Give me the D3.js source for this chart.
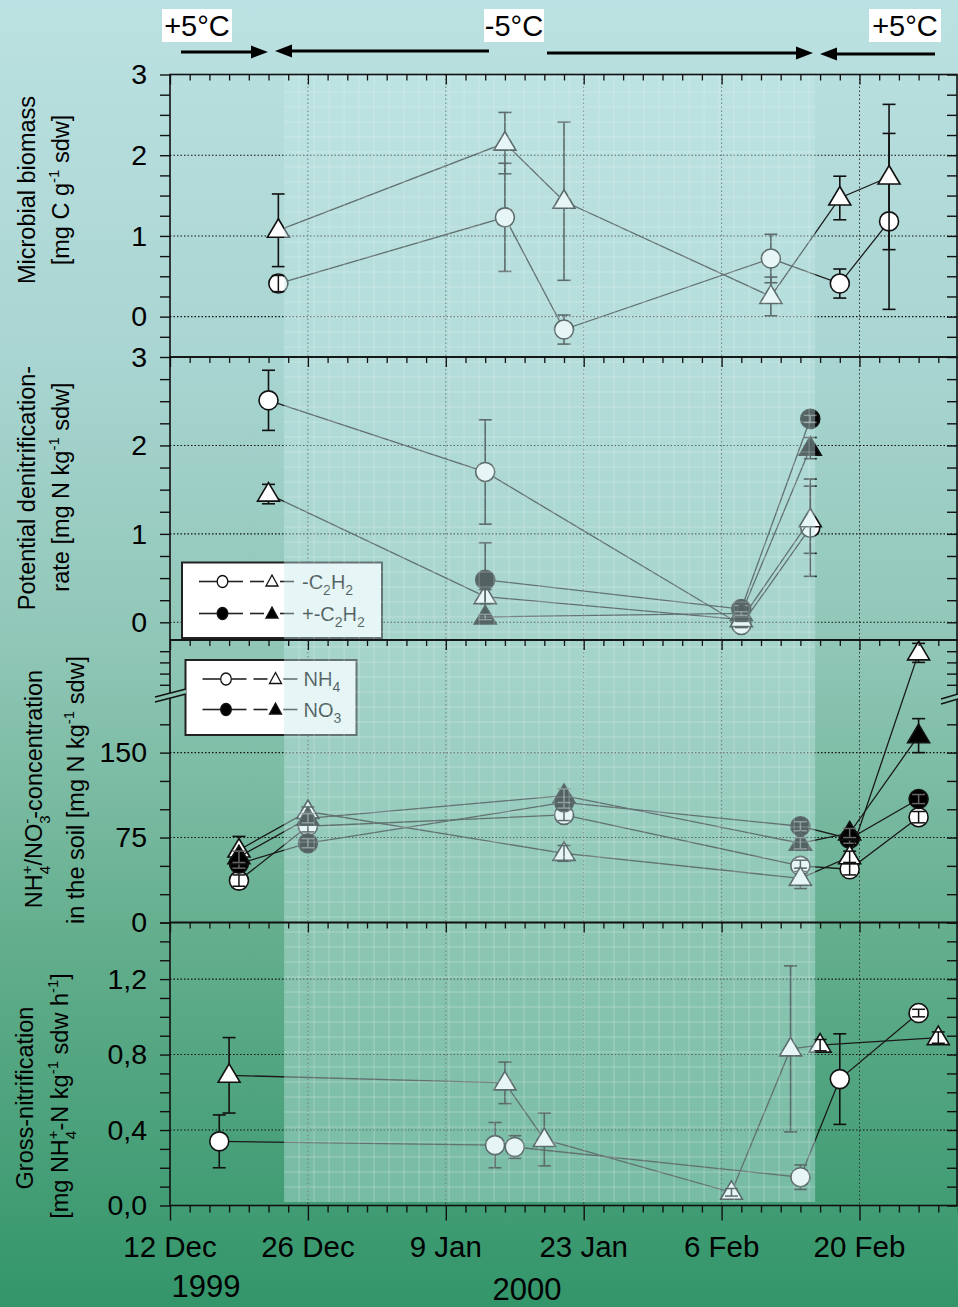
<!DOCTYPE html>
<html>
<head>
<meta charset="utf-8">
<script src="https://cdn.jsdelivr.net/npm/d3@7"></script>
<style>
  body { margin: 0; }
  svg { display: block; }
  text { font-family: "Liberation Sans", Arial, Helvetica, sans-serif; fill: #000; }
</style>
</head>
<body>
<script>
// ---- time axis ----
const dateDomain = ["1999-12-12", "2000-03-01"];
const majorTickDates = ["1999-12-12", "1999-12-26", "2000-01-09", "2000-01-23", "2000-02-06", "2000-02-20"];
const majorTickLabels = ["12 Dec", "26 Dec", "9 Jan", "23 Jan", "6 Feb", "20 Feb"];
const yearLabels = ["1999", "2000"];
const freezePeriod = ["1999-12-23T14:00:00Z", "2000-02-15T12:00:00Z"];
const temperatureLabels = ["+5°C", "-5°C", "+5°C"];

// ---- microbial biomass [mg C g-1 sdw] ----
const bioDates = ["1999-12-23", "2000-01-15", "2000-01-21", "2000-02-11", "2000-02-18", "2000-02-23"];
const bioCircle = [0.41, 1.23, -0.16, 0.72, 0.41, 1.18];
const bioCircleErr = [0.10, 0.67, 0.18, 0.30, 0.18, 1.09];
const bioTriangle = [1.07, 2.15, 1.43, 0.25, 1.47, 1.73];
const bioTriangleErr = [0.45, 0.38, 0.98, 0.24, 0.27, 0.90];

// ---- potential denitrification rate [mg N kg-1 sdw] ----
const denDates = ["1999-12-22", "2000-01-13", "2000-02-08", "2000-02-15"];
const denCircleOpen = [2.51, 1.70, -0.03, 1.07];
const denCircleOpenErr = [0.34, 0.59, 0.03, 0.55];
const denTriangleOpen = [1.45, 0.29, 0.03, 1.16];
const denTriangleOpenErr = [0.11, 0.08, 0.02, 0.38];
const denDatesC2H2 = ["2000-01-13", "2000-02-08", "2000-02-15"];
const denCircleFilled = [0.48, 0.15, 2.30];
const denCircleFilledErr = [0.42, 0.04, 0.04];
const denTriangleFilled = [0.06, 0.10, 1.97];
const denTriangleFilledErr = [0.03, 0.02, 0.12];

// ---- NH4+/NO3- in the soil [mg N kg-1 sdw] ----
const soilDates = ["1999-12-19", "1999-12-26", "2000-01-21", "2000-02-14", "2000-02-19", "2000-02-26"];
const nh4Circle = [37, 85, 95, 50, 47, 93];
const nh4CircleErr = [5, 5, 5, 5, 5, 5];
const nh4Triangle = [64, 98, 61, 39, 58, 585];
const nh4TriangleErr = [12, 4, 7, 9, 5, 85];
const no3Circle = [52, 70, 106, 85, 74, 109];
const no3CircleErr = [4, 4, 5, 4, 4, 4];
const no3Triangle = [58, 92, 112, 70, 79, 165];
const no3TriangleErr = [5, 4, 6, 5, 4, 15];

// ---- gross nitrification [mg NH4+-N kg-1 sdw h-1] ----
const nitCircleDates = ["1999-12-17", "2000-01-14", "2000-01-16", "2000-02-14", "2000-02-18", "2000-02-26"];
const nitCircle = [0.34, 0.32, 0.31, 0.15, 0.67, 1.02];
const nitCircleErr = [0.14, 0.12, 0.06, 0.065, 0.24, 0.02];
const nitTriangleDates = ["1999-12-18", "2000-01-15", "2000-01-19", "2000-02-07", "2000-02-13", "2000-02-16", "2000-02-28"];
const nitTriangle = [0.69, 0.65, 0.35, 0.07, 0.83, 0.85, 0.89];
const nitTriangleErr = [0.20, 0.11, 0.14, 0.02, 0.44, 0.03, 0.03];

// ---- y tick labels ----
const bioTicks = [0, 1, 2, 3];
const denTicks = [0, 1, 2, 3];
const soilTicks = [0, 75, 150];
const nitTicks = [0, 0.4, 0.8, 1.2];

// ================= drawing =================
const W = 958, H = 1307;
const L = 170, R = 958;
const iso = d3.isoParse;
const pd = s => iso(s.length === 10 ? s + "T00:00:00Z" : s);

const x = d3.scaleUtc().domain(dateDomain.map(pd)).range([L, R]);
const minorDates = d3.utcDay.range(pd(dateDomain[0]), d3.utcDay.offset(pd(dateDomain[1]), 1), 2);

const svg = d3.select("body").append("svg").attr("width", W).attr("height", H);
const defs = svg.append("defs");
const grad = defs.append("linearGradient").attr("id", "bg")
  .attr("gradientUnits", "userSpaceOnUse").attr("x1", 0).attr("y1", 0).attr("x2", 0).attr("y2", H);
[[0, "#bce1e2"], [0.27, "#a9d5d2"], [0.5, "#8fc6b6"], [0.72, "#63ae8d"], [1, "#33956a"]]
  .forEach(([o, c]) => grad.append("stop").attr("offset", o).attr("stop-color", c));
svg.append("rect").attr("width", W).attr("height", H).attr("fill", "url(#bg)");

const commaFmt = d => d3.format(".1f")(d).replace(".", ",");

const panels = [
  { top: 74.5, bottom: 357, y: d3.scaleLinear().domain([-0.5, 3]).range([357, 74.5]),
    ticks: d3.range(-0.25, 3.001, 0.25), labels: bioTicks, grid: [0, 1, 2], fmt: d3.format("d") },
  { top: 357, bottom: 640, y: d3.scaleLinear().domain([-0.2, 3]).range([640, 357]),
    ticks: d3.range(0, 3.001, 0.25), labels: denTicks, grid: [0, 1, 2], fmt: d3.format("d") },
  { top: 640, bottom: 922.5, y: d3.scaleLinear().domain([0, 200, 700]).range([922.5, 696, 640]),
    ticks: [0, 25, 50, 75, 100, 125, 150, 175, 300, 400, 500, 600], labels: soilTicks, grid: [75, 150], fmt: d3.format("d") },
  { top: 922.5, bottom: 1205.5, y: d3.scaleLinear().domain([0, 1.5]).range([1205.5, 922.5]),
    ticks: d3.range(0, 16).map(i => i / 10), labels: nitTicks, grid: [0.4, 0.8, 1.2], fmt: commaFmt }
];

// dotted grid lines
panels.forEach(p => {
  const g = svg.append("g");
  g.selectAll(".hg").data(p.grid).join("line")
    .attr("x1", L).attr("x2", R).attr("y1", d => p.y(d)).attr("y2", d => p.y(d))
    .attr("stroke", "#111").attr("stroke-width", 1.1).attr("stroke-dasharray", "1.5,2");
  g.selectAll(".vg").data(majorTickDates.slice(1)).join("line")
    .attr("x1", d => x(pd(d))).attr("x2", d => x(pd(d))).attr("y1", p.top).attr("y2", p.bottom)
    .attr("stroke", "#333").attr("stroke-width", 1).attr("stroke-dasharray", "1.5,2.5");
});

// marker shapes
const CIRC_RX = 9.5, CIRC_RY = 9.5;
const triPath = "M0,-11.5L11,7L-11,7Z";

function series(p, dates, vals, errs, shape, filled) {
  const y = p.y;
  const pts = dates.map((d, i) => ({ x: x(pd(d)), y: y(vals[i]), v: vals[i], e: errs[i] }));
  const g = svg.append("g");
  g.append("path").datum(pts)
    .attr("d", d3.line().x(d => d.x).y(d => d.y))
    .attr("fill", "none").attr("stroke", "#1a1a1a").attr("stroke-width", 1.3);
  const half = shape === "circle" ? CIRC_RY : 9;
  const bar = (sel) => {
    sel.append("line").attr("x1", d => d.x).attr("x2", d => d.x)
      .attr("y1", d => y(d.v + d.e)).attr("y2", d => y(d.v - d.e));
    sel.append("line").attr("x1", d => d.x - 6.5).attr("x2", d => d.x + 6.5)
      .attr("y1", d => y(d.v + d.e)).attr("y2", d => y(d.v + d.e));
    sel.append("line").attr("x1", d => d.x - 6.5).attr("x2", d => d.x + 6.5)
      .attr("y1", d => y(d.v - d.e)).attr("y2", d => y(d.v - d.e));
  };
  // error bars behind the marker
  g.selectAll(".eb").data(pts.filter(d => Math.abs(y(d.v + d.e) - y(d.v)) >= half)).join("g")
    .attr("stroke", "#111").attr("stroke-width", 1.6).call(bar);
  const fill = filled ? "#000" : "#fff";
  if (shape === "circle") {
    g.selectAll(".m").data(pts).join("ellipse")
      .attr("cx", d => d.x).attr("cy", d => d.y).attr("rx", CIRC_RX).attr("ry", CIRC_RY)
      .attr("fill", fill).attr("stroke", "#111").attr("stroke-width", 1.6);
  } else {
    g.selectAll(".m").data(pts).join("path")
      .attr("d", triPath).attr("transform", d => `translate(${d.x},${d.y})`)
      .attr("fill", fill).attr("stroke", "#111").attr("stroke-width", 1.6).attr("stroke-linejoin", "miter");
  }
  // short error bars show through the marker
  g.selectAll(".es").data(pts.filter(d => Math.abs(y(d.v + d.e) - y(d.v)) < half)).join("g")
    .attr("stroke", filled ? "#666" : "#111").attr("stroke-width", 1.5).call(bar);
}

const [P1, P2, P3, P4] = panels;
series(P1, bioDates, bioCircle, bioCircleErr, "circle", false);
series(P1, bioDates, bioTriangle, bioTriangleErr, "triangle", false);

series(P2, denDates, denCircleOpen, denCircleOpenErr, "circle", false);
series(P2, denDates, denTriangleOpen, denTriangleOpenErr, "triangle", false);
series(P2, denDatesC2H2, denCircleFilled, denCircleFilledErr, "circle", true);
series(P2, denDatesC2H2, denTriangleFilled, denTriangleFilledErr, "triangle", true);

series(P3, soilDates, nh4Circle, nh4CircleErr, "circle", false);
series(P3, soilDates, no3Circle, no3CircleErr, "circle", true);
series(P3, soilDates, nh4Triangle, nh4TriangleErr, "triangle", false);
series(P3, soilDates, no3Triangle, no3TriangleErr, "triangle", true);

series(P4, nitCircleDates, nitCircle, nitCircleErr, "circle", false);
series(P4, nitTriangleDates, nitTriangle, nitTriangleErr, "triangle", false);

// legends
function legend(bx, by, bw, bh, rows) {
  const g = svg.append("g");
  g.append("rect").attr("x", bx).attr("y", by).attr("width", bw).attr("height", bh)
    .attr("fill", "#fff").attr("stroke", "#222").attr("stroke-width", 2);
  rows.forEach(r => {
    const cy = r.y;
    [[bx + 17, bx + 35], [bx + 46, bx + 61], [bx + 68, bx + 82], [bx + 98, bx + 112]].forEach(([a, b]) =>
      g.append("line").attr("x1", a).attr("x2", b).attr("y1", cy).attr("y2", cy)
        .attr("stroke", "#222").attr("stroke-width", 1.6));
    g.append("ellipse").attr("cx", bx + 40.5).attr("cy", cy).attr("rx", 5.3).attr("ry", 6)
      .attr("fill", r.filled ? "#000" : "#fff").attr("stroke", "#111").attr("stroke-width", 1.3);
    g.append("path").attr("d", "M0,-6.5L6,4.5L-6,4.5Z").attr("transform", `translate(${bx + 90},${cy})`)
      .attr("fill", r.filled ? "#000" : "#fff").attr("stroke", "#111").attr("stroke-width", 1.3);
    const t = g.append("text").attr("x", bx + r.tx).attr("y", cy + 7).attr("font-size", 20).attr("fill", "#222");
    rich(t, r.parts, 20, 0.7);
  });
}

function rich(t, parts, size, ratio = 0.62) {
  let cur = 0;
  const small = Math.round(size * ratio);
  parts.forEach(([s, k]) => {
    let off = 0, fs = size, dx = 0;
    if (k === "sub") { off = size * 0.32; fs = small; }
    else if (k === "sup") { off = -size * 0.42; fs = small; }
    else if (k === "stack") { off = -size * 0.42; fs = small; dx = -small * 0.56; }
    const ts = t.append("tspan").attr("font-size", fs).attr("dy", off - cur).text(s);
    if (dx) ts.attr("dx", dx);
    cur = off;
  });
}

legend(182, 562.5, 200, 75.5, [
  { y: 581.5, filled: false, tx: 120, parts: [["-C", "n"], ["2", "sub"], ["H", "n"], ["2", "sub"]] },
  { y: 613.5, filled: true, tx: 120, parts: [["+-C", "n"], ["2", "sub"], ["H", "n"], ["2", "sub"]] }
]);
legend(185.5, 660, 171, 75, [
  { y: 679, filled: false, tx: 118, parts: [["NH", "n"], ["4", "sub"]] },
  { y: 709.5, filled: true, tx: 118, parts: [["NO", "n"], ["3", "sub"]] }
]);

// freezing period overlay with its fine grid
const fx0 = x(pd(freezePeriod[0])), fx1 = x(pd(freezePeriod[1]));
const oTop = 75, oBot = 1202;
const ov = svg.append("g");
ov.append("rect").attr("x", fx0).attr("y", oTop).attr("width", fx1 - fx0).attr("height", oBot - oTop)
  .attr("fill", "#c4e6e6").attr("fill-opacity", 0.42);
ov.selectAll(".gv").data(d3.range(fx0 + 15, fx1, 15)).join("line")
  .attr("x1", d => d).attr("x2", d => d).attr("y1", oTop).attr("y2", oBot)
  .attr("stroke", "#eefafa").attr("stroke-opacity", 0.3).attr("stroke-width", 1);
ov.selectAll(".gh").data(d3.range(oBot - 15, oTop, -15)).join("line")
  .attr("x1", fx0).attr("x2", fx1).attr("y1", d => d).attr("y2", d => d)
  .attr("stroke", "#eefafa").attr("stroke-opacity", 0.3).attr("stroke-width", 1);

// axes and frames
const majorSet = new Set(majorTickDates.map(d => +pd(d)));
panels.forEach(p => {
  // left axis
  const gl = svg.append("g").attr("transform", `translate(${L},0)`)
    .call(d3.axisLeft(p.y).tickValues(p.ticks).tickSize(10).tickSizeOuter(0).tickPadding(13)
      .tickFormat(d => p.labels.some(v => Math.abs(v - d) < 1e-9) ? p.fmt(d) : ""));
  gl.select(".domain").remove();
  gl.selectAll("line").attr("stroke", "#111").attr("stroke-width", 1.4);
  gl.selectAll("text").attr("font-size", 28.5).attr("font-family", "Liberation Sans, Arial, sans-serif").attr("fill", "#000");
  // right axis, ticks pointing inward
  const gr = svg.append("g").attr("transform", `translate(${R - 1},0)`)
    .call(d3.axisLeft(p.y).tickValues(p.ticks).tickSize(10).tickSizeOuter(0).tickFormat(""));
  gr.select(".domain").remove();
  gr.selectAll("line").attr("stroke", "#111").attr("stroke-width", 1.4);
  // top axis, ticks pointing inward
  const gt = svg.append("g").attr("transform", `translate(0,${p.top})`)
    .call(d3.axisBottom(x).tickValues(minorDates).tickSizeOuter(0).tickFormat("")
      .tickSize(6));
  gt.select(".domain").remove();
  gt.selectAll(".tick line").attr("y2", d => majorSet.has(+d) ? 10 : 6)
    .attr("stroke", "#111").attr("stroke-width", 1.3);
  // frame
  svg.append("rect").attr("x", L).attr("y", p.top).attr("width", R - L - 1).attr("height", p.bottom - p.top)
    .attr("fill", "none").attr("stroke", "#111").attr("stroke-width", 1.6);
});

// bottom time axis
const gb = svg.append("g").attr("transform", `translate(0,${P4.bottom})`)
  .call(d3.axisBottom(x).tickValues(minorDates).tickSizeOuter(0).tickFormat("").tickSize(7));
gb.select(".domain").remove();
gb.selectAll(".tick line").attr("y2", d => majorSet.has(+d) ? 15 : 7)
  .attr("stroke", "#111").attr("stroke-width", 1.4);
svg.append("g").selectAll("text").data(majorTickDates).join("text")
  .attr("x", d => x(pd(d))).attr("y", 1257).attr("text-anchor", "middle").attr("font-size", 29.5)
  .text((d, i) => majorTickLabels[i]);
svg.append("text").attr("x", 206).attr("y", 1297).attr("text-anchor", "middle").attr("font-size", 31).text(yearLabels[0]);
svg.append("text").attr("x", 527).attr("y", 1300).attr("text-anchor", "middle").attr("font-size", 31).text(yearLabels[1]);

// axis break marks on the NH4/NO3 panel
function breakMark(x0, x1, ya, yb, gap) {
  const g = svg.append("g");
  g.append("path").attr("d", `M${x0},${ya}L${x1},${yb}L${x1},${yb + gap}L${x0},${ya + gap}Z`).attr("fill", "url(#bg)");
  g.append("line").attr("x1", x0).attr("y1", ya).attr("x2", x1).attr("y2", yb).attr("stroke", "#111").attr("stroke-width", 1.4);
  g.append("line").attr("x1", x0).attr("y1", ya + gap).attr("x2", x1).attr("y2", yb + gap).attr("stroke", "#111").attr("stroke-width", 1.4);
}
breakMark(155, 186, 697, 689, 5);
breakMark(941, 958, 699, 694, 5);

// y axis titles
function yTitle(xb, yc, parts, size) {
  const t = svg.append("text").attr("transform", `translate(${xb},${yc}) rotate(-90)`)
    .attr("text-anchor", "middle").attr("font-size", size);
  rich(t, parts, size);
}
yTitle(35, 190, [["Microbial biomass", "n"]], 23.5);
yTitle(69, 190, [["[mg C g", "n"], ["-1", "sup"], [" sdw]", "n"]], 23.5);
yTitle(35, 488, [["Potential denitrification-", "n"]], 23.5);
yTitle(69, 487, [["rate [mg N kg", "n"], ["-1", "sup"], [" sdw]", "n"]], 23.5);
yTitle(42, 789, [["NH", "n"], ["4", "sub"], ["+", "stack"], ["/NO", "n"], ["3", "sub"], ["-", "stack"], ["-concentration", "n"]], 23.5);
yTitle(84, 790, [["in the soil [mg N kg", "n"], ["-1", "sup"], [" sdw]", "n"]], 23.5);
yTitle(33, 1098, [["Gross-nitrification", "n"]], 23.5);
yTitle(68, 1096, [["[mg NH", "n"], ["4", "sub"], ["+", "stack"], ["-N kg", "n"], ["-1", "sup"], [" sdw h", "n"], ["-1", "sup"], ["]", "n"]], 23.5);

// temperature regime labels and arrows
const tl = svg.append("g");
[[162, 70], [484, 60], [869, 72]].forEach(([bx, bw], i) => {
  tl.append("rect").attr("x", bx).attr("y", 9).attr("width", bw).attr("height", 33).attr("fill", "#fff");
  tl.append("text").attr("x", bx + bw / 2).attr("y", 36).attr("text-anchor", "middle").attr("font-size", 29)
    .text(temperatureLabels[i]);
});
function arrow(xa, xb, yy) {
  const dir = Math.sign(xb - xa);
  const hl = 17, hw = 6.5;
  tl.append("line").attr("x1", xa).attr("x2", xb - dir * hl * 0.8).attr("y1", yy).attr("y2", yy)
    .attr("stroke", "#000").attr("stroke-width", 3.2);
  tl.append("path").attr("d", `M${xb},${yy}L${xb - dir * hl},${yy - hw}L${xb - dir * hl},${yy + hw}Z`).attr("fill", "#000");
}
arrow(181, 268, 52);
arrow(489, 275, 51);
arrow(547, 813, 53);
arrow(935, 820, 54);
</script>
</body>
</html>
